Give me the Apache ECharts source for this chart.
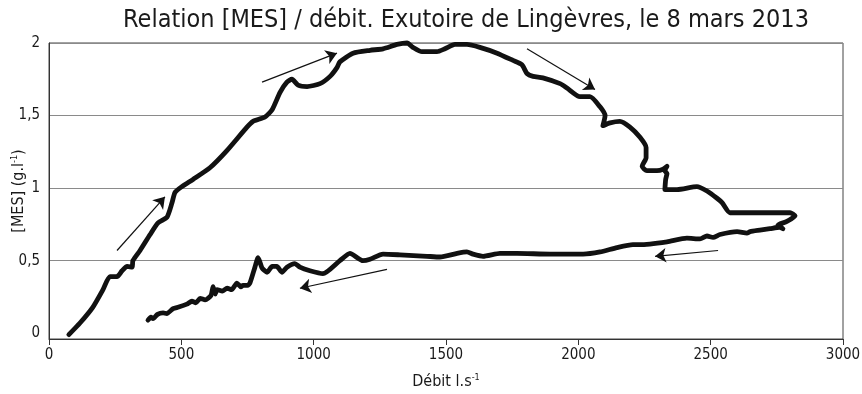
<!DOCTYPE html>
<html>
<head>
<meta charset="utf-8">
<script src="https://cdn.jsdelivr.net/npm/echarts@6/dist/echarts.min.js"></script>
<style>
  html, body { margin: 0; padding: 0; background: #fff; }
  #chart { width: 862px; height: 394px; }
</style>
</head>
<body>
<div id="chart"></div>
<script>
// Hysteresis loop: suspended solids [MES] (g/l) against discharge (l/s),
// in the order the samples were taken (rising limb, then falling limb).
const debit = [
  75, 117, 166, 204, 230, 257, 276, 295, 314, 317, 344, 382, 412, 446, 465, 476, 502, 544,
  608, 673, 748, 771, 816, 843, 873, 899, 918, 941, 975, 1024, 1062, 1088, 1099, 1149,
  1213, 1262, 1315, 1353, 1375, 1409, 1466, 1496, 1534, 1579, 1628, 1693, 1753, 1787,
  1806, 1829, 1866, 1931, 1957, 2006, 2044, 2082, 2101, 2093, 2120, 2157, 2195, 2233,
  2256, 2256, 2241, 2259, 2297, 2320, 2335, 2327, 2335, 2330, 2327, 2373, 2448, 2486,
  2524, 2543, 2573, 2637, 2724, 2800, 2819, 2788, 2754, 2773, 2760, 2724, 2686, 2649,
  2637, 2600, 2535, 2509, 2486, 2460, 2410, 2335, 2233, 2206, 2146, 2082, 2018, 1893,
  1768, 1704, 1640, 1602, 1579, 1542, 1477, 1428, 1326, 1262, 1213, 1186, 1137, 1099,
  1035, 986, 948, 929, 899, 880, 861, 843, 824, 805, 790, 778, 759, 750, 733, 725, 710,
  690, 673, 655, 635, 628, 620, 612, 590, 571, 555, 540, 521, 490, 469, 445, 431, 410,
  393, 385, 374
];
const mes = [
  -0.01, 0.07, 0.18, 0.30, 0.39, 0.39, 0.43, 0.46, 0.455, 0.50, 0.57, 0.68, 0.76, 0.80, 0.90, 0.97, 1.01, 1.06,
  1.14, 1.26, 1.42, 1.46, 1.49, 1.54, 1.66, 1.73, 1.75, 1.71, 1.70, 1.72, 1.77, 1.83, 1.87, 1.93,
  1.95, 1.96, 1.99, 2.0, 1.97, 1.94, 1.94, 1.96, 1.99, 1.99, 1.97, 1.93, 1.88, 1.85,
  1.79, 1.77, 1.76, 1.72, 1.69, 1.63, 1.63, 1.56, 1.50, 1.43, 1.45, 1.46, 1.42, 1.35,
  1.28, 1.21, 1.15, 1.12, 1.12, 1.13, 1.15, 1.12, 1.10, 1.06, 0.99, 0.99, 1.01, 0.98,
  0.93, 0.90, 0.83, 0.83, 0.83, 0.83, 0.81, 0.77, 0.745, 0.72, 0.73, 0.72, 0.71, 0.70,
  0.69, 0.70, 0.68, 0.66, 0.67, 0.65, 0.655, 0.63, 0.61, 0.61, 0.59, 0.56, 0.545, 0.545,
  0.55, 0.55, 0.53, 0.545, 0.56, 0.55, 0.525, 0.53, 0.54, 0.545, 0.51, 0.50, 0.55, 0.50,
  0.41, 0.43, 0.455, 0.48, 0.455, 0.42, 0.46, 0.46, 0.42, 0.45, 0.52, 0.455, 0.345, 0.33, 0.33, 0.32, 0.345,
  0.30, 0.31, 0.29, 0.30, 0.27, 0.32, 0.26, 0.23, 0.24, 0.21, 0.22, 0.20, 0.18, 0.17, 0.135, 0.14, 0.13,
  0.10, 0.11, 0.09
];

// Direction arrows: [startDebit, startMes, endDebit, endMes]
const arrows = [
  [257, 0.57, 438, 0.94],
  [805, 1.73, 1088, 1.93],
  [1806, 1.96, 2063, 1.68],
  [2528, 0.57, 2290, 0.53],
  [1277, 0.44, 948, 0.31]
];

const xTicks = [0, 500, 1000, 1500, 2000, 2500, 3000];
const yTicks = [0, 0.5, 1, 1.5, 2];

const FONT = "'Liberation Sans Narrow', 'DejaVu Sans Condensed', sans-serif";
const INK = '#1a1a1a';

const chart = echarts.init(document.getElementById('chart'), null, { renderer: 'canvas' });

chart.setOption({
  animation: false,
  backgroundColor: '#ffffff',
  title: {
    text: 'Relation [MES] / débit. Exutoire de Lingèvres, le 8 mars 2013',
    left: 461,
    top: 3,
    textAlign: 'center',
    textStyle: { fontFamily: FONT, fontSize: 25, fontWeight: 'normal', color: INK }
  },
  grid: {
    left: 49, top: 43, width: 794, height: 296,
    outerBoundsMode: 'none',
    containLabel: false,
    show: true, borderColor: '#444', borderWidth: 1, backgroundColor: 'transparent'
  },
  xAxis: {
    type: 'value',
    min: 0, max: 3000, interval: 500,
    name: '{a|Débit l.s}{s|-1}',
    nameLocation: 'middle',
    nameGap: 34,
    nameMoveOverlap: false,
    nameTextStyle: {
      rich: {
        a: { fontFamily: FONT, fontSize: 16, color: INK },
        s: { fontFamily: FONT, fontSize: 9, color: INK, padding: [0, 0, 9, 0] }
      }
    },
    axisLine: { show: true, onZero: false, lineStyle: { color: '#333', width: 1 } },
    axisTick: { show: true, inside: false, length: 6, lineStyle: { color: '#333' } },
    axisLabel: { fontFamily: FONT, fontSize: 15, color: INK, margin: 9,
      customValues: xTicks, formatter: v => String(v) },
    splitLine: { show: false }
  },
  yAxis: {
    type: 'value',
    min: -0.04, max: 2,
    name: '{a|[MES] (g.l}{s|-1}{a|)}',
    nameLocation: 'middle',
    nameGap: 21,
    nameRotate: 90,
    nameMoveOverlap: false,
    nameTextStyle: {
      rich: {
        a: { fontFamily: FONT, fontSize: 16, color: INK },
        s: { fontFamily: FONT, fontSize: 9, color: INK, padding: [0, 0, 9, 0] }
      }
    },
    axisLine: { show: true, lineStyle: { color: '#333', width: 1 } },
    axisTick: { show: false, customValues: [0.5, 1, 1.5, 2] },
    axisLabel: {
      fontFamily: FONT, fontSize: 15, color: INK, margin: 9,
      customValues: yTicks,
      formatter: v => String(v).replace('.', ',')
    },
    splitLine: { show: true, lineStyle: { color: '#8a8a8a', width: 1 } }
  },
  series: [
    {
      type: 'line',
      data: debit.map((d, i) => [d, mes[i]]),
      showSymbol: false,
      smooth: 0.2,
      clip: false,
      lineStyle: { color: '#111', width: 4.8, cap: 'round', join: 'round' },
      z: 3
    },
    {
      type: 'lines',
      coordinateSystem: 'cartesian2d',
      data: arrows.map(a => ({ coords: [[a[0], a[1]], [a[2], a[3]]] })),
      symbol: ['none', 'arrow'],
      symbolSize: [0, 11],
      lineStyle: { color: '#111', width: 1.2, opacity: 1, curveness: 0 },
      z: 4
    }
  ]
});
</script>
</body>
</html>
